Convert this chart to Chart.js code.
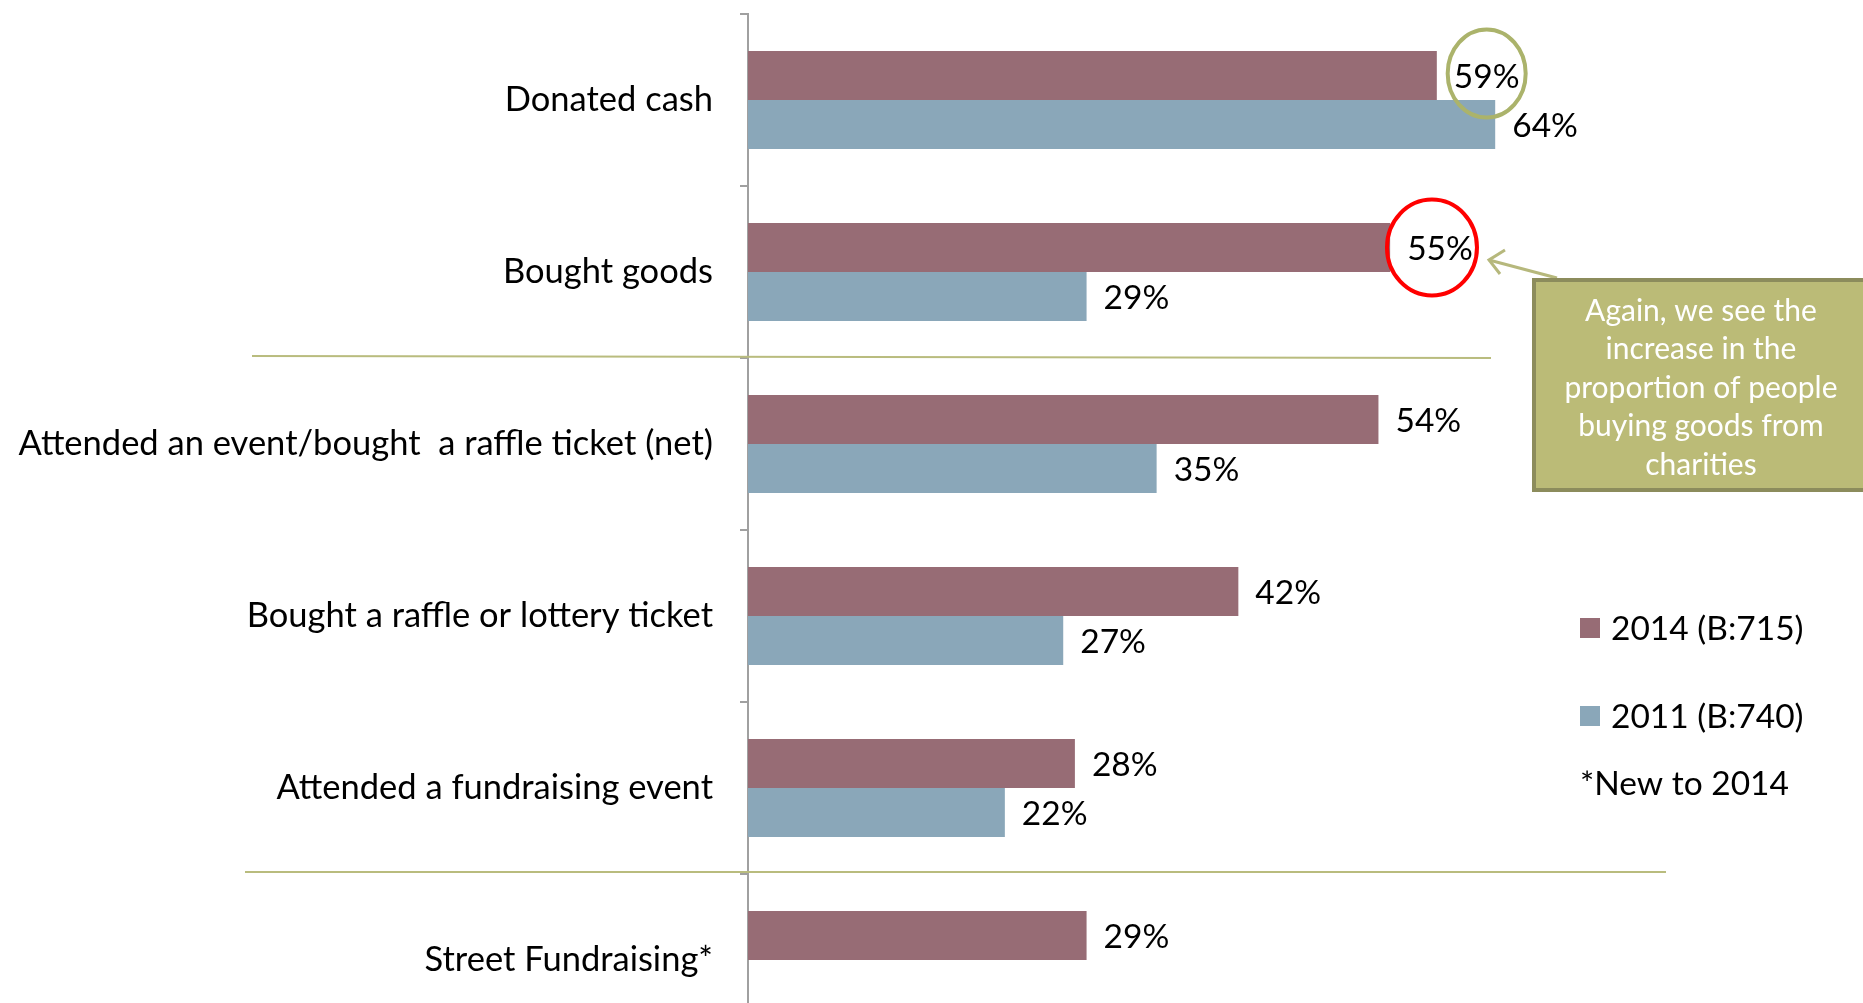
<!DOCTYPE html>
<html>
<head>
<meta charset="utf-8">
<script src="https://cdn.jsdelivr.net/npm/chart.js@4.4.1/dist/chart.umd.min.js"></script>
<style>
    html, body { margin: 0; padding: 0; background: #fff; overflow: hidden; }
    #wrap { position: absolute; left: 0; top: 0; width: 1863px; height: 1060px; }
</style>
</head>
<body>
<div id="wrap"><canvas id="givingChart"></canvas></div>
<script>
const categories = [
    'Donated cash',
    'Bought goods',
    'Attended an event/bought  a raffle ticket (net)',
    'Bought a raffle or lottery ticket',
    'Attended a fundraising event',
    'Street Fundraising*'
];
const values2014 = [59, 55, 54, 42, 28, 29];
const values2011 = [64, 29, 35, 27, 22, null];
const seriesNames = ['2014 (B:715)', '2011 (B:740)'];
const footnote = '*New to 2014';
const calloutLines = ['Again, we see the', 'increase in the', 'proportion of people', 'buying goods from', 'charities'];

const FONT = 'Lato, "Open Sans", sans-serif';
const colors = ['#976c75', '#8aa7b9'];

// value labels at the end of each bar
const valueLabels = {
    id: 'valueLabels',
    afterDatasetsDraw(chart) {
        const ctx = chart.ctx;
        ctx.save();
        ctx.font = '33.5px ' + FONT;
        ctx.fillStyle = '#000';
        ctx.textBaseline = 'middle';
        ctx.textAlign = 'left';
        chart.data.datasets.forEach((ds, i) => {
            chart.getDatasetMeta(i).data.forEach((bar, j) => {
                if (ds.data[j] == null) return;
                ctx.fillText(ds.data[j] + '%', bar.x + 17, bar.y + 2);
            });
        });
        ctx.restore();
    }
};

// separators, circles, callout and legend
const extras = {
    id: 'extras',
    afterDraw(chart) {
        const ctx = chart.ctx;
        const y = chart.scales.y;
        const m14 = chart.getDatasetMeta(0).data;
        ctx.save();

        // olive separator lines
        ctx.strokeStyle = '#b9bc7e';
        ctx.lineWidth = 2;
        const b1 = (y.getPixelForValue(1) + y.getPixelForValue(2)) / 2 - 2;
        ctx.beginPath(); ctx.moveTo(252, b1); ctx.lineTo(1491, b1 + 2); ctx.stroke();
        const b2 = (y.getPixelForValue(4) + y.getPixelForValue(5)) / 2 - 2;
        ctx.beginPath(); ctx.moveTo(245, b2); ctx.lineTo(1666, b2); ctx.stroke();

        ctx.font = '33.5px ' + FONT;
        // green circle around 59%
        let w = ctx.measureText(values2014[0] + '%').width;
        ctx.strokeStyle = '#abb36b';
        ctx.lineWidth = 4;
        ctx.beginPath();
        ctx.ellipse(m14[0].x + 17 + w / 2, m14[0].y - 2, 39, 44, 0, 0, Math.PI * 2);
        ctx.stroke();
        // red circle around 55%
        w = ctx.measureText(values2014[1] + '%').width;
        ctx.strokeStyle = '#ff0000';
        ctx.beginPath();
        ctx.ellipse(m14[1].x + 17 + w / 2 - 8, m14[1].y, 45, 48, 0, 0, Math.PI * 2);
        ctx.stroke();

        // arrow from callout
        ctx.strokeStyle = '#b6b87c';
        ctx.lineWidth = 3;
        ctx.beginPath(); ctx.moveTo(1557, 278); ctx.lineTo(1489, 260); ctx.stroke();
        ctx.beginPath(); ctx.moveTo(1505, 250); ctx.lineTo(1489, 260); ctx.lineTo(1500, 274); ctx.stroke();

        // callout box
        ctx.fillStyle = '#bbbb77';
        ctx.fillRect(1534, 280, 340, 210);
        ctx.strokeStyle = '#8c8c5c';
        ctx.lineWidth = 4;
        ctx.strokeRect(1534, 280, 340, 210);
        ctx.fillStyle = '#fff';
        ctx.font = '30px ' + FONT;
        ctx.textAlign = 'center';
        ctx.textBaseline = 'middle';
        calloutLines.forEach((t, i) => ctx.fillText(t, 1701, 311 + i * 38.5));

        // legend
        ctx.textAlign = 'left';
        ctx.font = '33.5px ' + FONT;
        seriesNames.forEach((name, i) => {
            const ly = 628 + i * 88;
            ctx.fillStyle = colors[i];
            ctx.fillRect(1580, ly - 10, 20, 20);
            ctx.fillStyle = '#000';
            ctx.fillText(name, 1611, ly + 1);
        });
        ctx.fillText(footnote, 1580, 784);
        ctx.restore();
    }
};

new Chart(document.getElementById('givingChart'), {
    type: 'bar',
    data: {
        labels: categories,
        datasets: [
            { label: seriesNames[0], data: values2014, backgroundColor: colors[0] },
            { label: seriesNames[1], data: values2011, backgroundColor: colors[1] }
        ]
    },
    options: {
        indexAxis: 'y',
        responsive: true,
        maintainAspectRatio: false,
        animation: false,
        layout: { padding: { left: 0, right: 181, top: 14, bottom: 14 } },
        datasets: { bar: { categoryPercentage: 0.57, barPercentage: 1 } },
        scales: {
            x: { display: false, min: 0, max: 80 },
            y: {
                afterFit: scale => {
                    scale.width = 748;
                    scale.paddingTop = 0;
                    scale.paddingBottom = 0;
                },
                grid: { offset: true, drawOnChartArea: false, tickLength: 8, color: '#a0a0a0', lineWidth: 2 },
                border: { color: '#a0a0a0', width: 2 },
                ticks: { color: '#000', padding: 27, font: { size: 34.5, family: FONT } }
            }
        },
        plugins: {
            legend: { display: false },
            tooltip: { enabled: false }
        }
    },
    plugins: [valueLabels, extras]
});
</script>
</body>
</html>
